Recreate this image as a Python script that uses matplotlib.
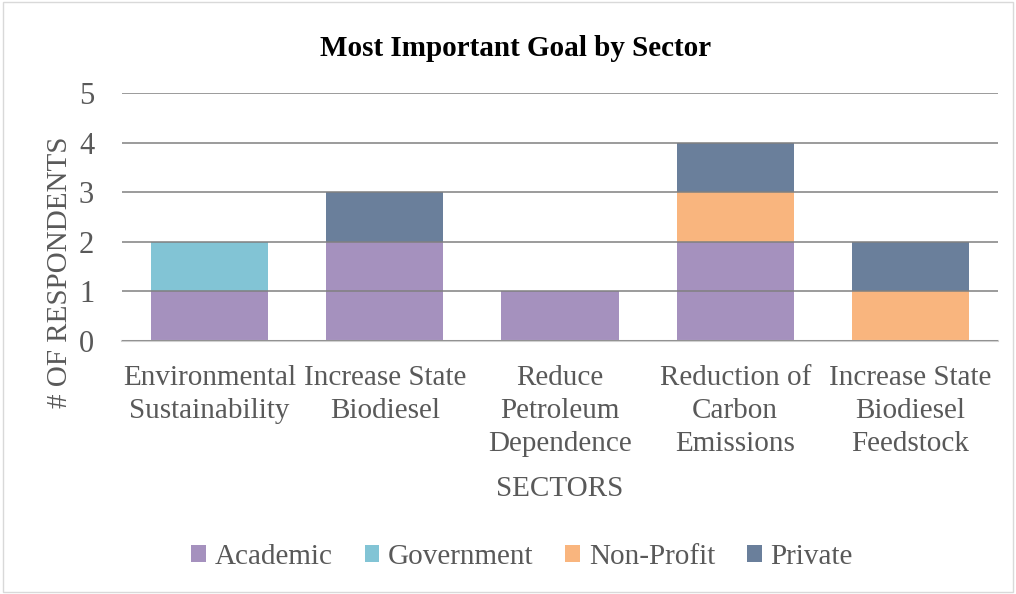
import numpy as np
import matplotlib.pyplot as plt
from matplotlib.patches import Rectangle

plt.rcParams['font.family'] = ['Liberation Serif', 'DejaVu Serif']

# Dados
categorias = ['Environmental\nSustainability', 'Increase State\nBiodiesel',
              'Reduce\nPetroleum\nDependence', 'Reduction of\nCarbon\nEmissions',
              'Increase State\nBiodiesel\nFeedstock']
academic = [1, 2, 1, 2, 0]
government = [1, 0, 0, 0, 0]
nonprofit = [0, 0, 0, 1, 1]
private = [0, 1, 0, 1, 1]

series = [('Academic', academic, '#a591be'),
          ('Government', government, '#82c4d5'),
          ('Non-Profit', nonprofit, '#f9b57e'),
          ('Private', private, '#6a7f9b')]

cinza = '#595959'

fig = plt.figure(figsize=(10.16, 5.94), dpi=100)
ax = fig.add_axes([122 / 1016, 1 - 341 / 594, 876 / 1016, 248 / 594])

x = np.arange(len(categorias))
base = np.zeros(len(categorias))
for nome, vals, cor in series:
    ax.bar(x, vals, bottom=base, width=0.67, color=cor, label=nome, zorder=2)
    base += np.array(vals)

ax.set_xlim(-0.5, len(categorias) - 0.5)
ax.set_ylim(0, 5)
ax.set_yticks(range(6))
ax.yaxis.grid(True, color='#808080', linewidth=1.3, alpha=0.85, zorder=3)
ax.set_axisbelow(False)
for s in ['top', 'right', 'left']:
    ax.spines[s].set_visible(False)
ax.spines['bottom'].set_color('#d0d0d0')
ax.spines['bottom'].set_linewidth(1.5)
ax.tick_params(axis='both', length=0, colors=cinza, labelsize=21)
ax.tick_params(axis='x', pad=17)
ax.tick_params(axis='y', labelsize=22, pad=20)
ax.set_xticks(x)
ax.set_xticklabels(categorias, linespacing=1.36)

ax.set_ylabel('# OF RESPONDENTS', fontsize=21, color=cinza)
ax.yaxis.set_label_coords(-0.056, 0.278)
ax.set_xlabel('SECTORS', fontsize=21, color=cinza, labelpad=14)
fig.suptitle('Most Important Goal by Sector', fontsize=21, fontweight='bold',
             x=516 / 1016, y=1 - 48 / 594, va='center')

fig.legend(loc='center', bbox_to_anchor=(522 / 1016, 37 / 594), ncol=4, frameon=False,
           fontsize=21, labelcolor=cinza, handlelength=0.5, handleheight=0.5,
           handletextpad=0.3, columnspacing=1.1)

fig.patches.append(Rectangle((0.003, 0.003), 0.994, 0.994, transform=fig.transFigure,
                             fill=False, edgecolor='#d9d9d9', linewidth=1))

fig.savefig('out.png', dpi=100)
